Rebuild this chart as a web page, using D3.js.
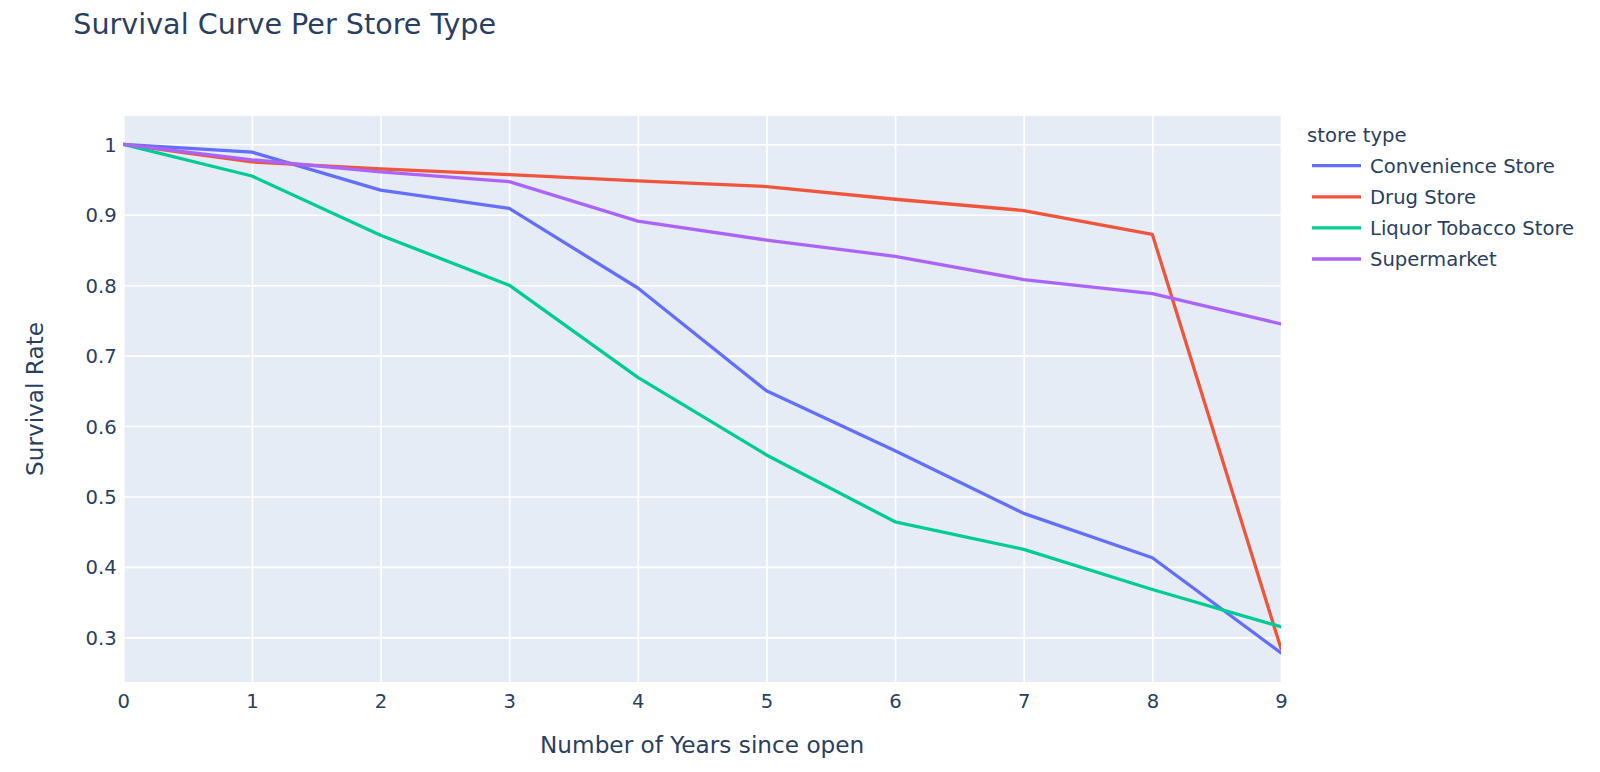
<!DOCTYPE html>
<html>
<head>
<meta charset="utf-8">
<script src="https://cdn.jsdelivr.net/npm/d3@7"></script>
<style>
  html, body { margin: 0; padding: 0; background: #fff; }
  svg { display: block; }
  text { font-family: "DejaVu Sans", Verdana, sans-serif; fill: #2a3f5f; }
</style>
</head>
<body>
<svg id="chart" width="1600" height="772"></svg>
<script>
// ---- data ----
const years = [0, 1, 2, 3, 4, 5, 6, 7, 8, 9];
const seriesNames = ["Convenience Store", "Drug Store", "Liquor Tobacco Store", "Supermarket"];
const convenienceStore = [1, 0.989, 0.935, 0.909, 0.796, 0.650, 0.565, 0.476, 0.413, 0.278];
const drugStore        = [1, 0.975, 0.965, 0.957, 0.948, 0.940, 0.922, 0.906, 0.872, 0.284];
const liquorTobacco    = [1, 0.955, 0.871, 0.800, 0.669, 0.559, 0.464, 0.425, 0.368, 0.315];
const supermarket      = [1, 0.978, 0.961, 0.947, 0.891, 0.864, 0.841, 0.808, 0.788, 0.745];
const yTicks = [0.3, 0.4, 0.5, 0.6, 0.7, 0.8, 0.9, 1];
const xTicks = [0, 1, 2, 3, 4, 5, 6, 7, 8, 9];
const colors = ["#636efa", "#EF553B", "#00cc96", "#ab63fa"];

const seriesValues = [convenienceStore, drugStore, liquorTobacco, supermarket];

// ---- layout ----
const svg = d3.select("#chart");
const plot = { left: 123.3, right: 1281, top: 116, bottom: 682 };

const x = d3.scaleLinear().domain([0, 9]).range([plot.left, plot.right]);
const y = d3.scaleLinear().domain([0.2366, 1.0402]).range([plot.bottom, plot.top]);

// background
svg.append("rect")
  .attr("x", plot.left).attr("y", plot.top)
  .attr("width", plot.right - plot.left).attr("height", plot.bottom - plot.top)
  .attr("fill", "#E5ECF6");

// grid lines via axes
const xGrid = d3.axisBottom(x).tickValues(xTicks).tickSize(-(plot.bottom - plot.top)).tickFormat("");
svg.append("g").attr("transform", `translate(0,${plot.bottom})`).call(xGrid)
  .call(g => g.select(".domain").remove())
  .call(g => g.selectAll("line").attr("stroke", "#fff").attr("stroke-width", 1.6));

const yGrid = d3.axisLeft(y).tickValues(yTicks).tickSize(-(plot.right - plot.left)).tickFormat("");
svg.append("g").attr("transform", `translate(${plot.left},0)`).call(yGrid)
  .call(g => g.select(".domain").remove())
  .call(g => g.selectAll("line").attr("stroke", "#fff").attr("stroke-width", 1.6));

// tick labels via axes
const xAxis = d3.axisBottom(x).tickValues(xTicks).tickSize(0).tickPadding(0).tickFormat(d3.format("d"));
svg.append("g").attr("transform", `translate(0,${plot.bottom})`).call(xAxis)
  .call(g => g.select(".domain").remove())
  .call(g => g.selectAll("text")
    .attr("dy", null).attr("y", 25.5)
    .style("font-size", "19.6px").style("font-family", "DejaVu Sans, Verdana, sans-serif").attr("fill", "#2a3f5f"));

const yAxis = d3.axisLeft(y).tickValues(yTicks).tickSize(0).tickPadding(6.6).tickFormat(d => String(d));
svg.append("g").attr("transform", `translate(${plot.left},0)`).call(yAxis)
  .call(g => g.select(".domain").remove())
  .call(g => g.selectAll("text")
    .attr("dy", null).attr("y", 7)
    .style("font-size", "19.6px").style("font-family", "DejaVu Sans, Verdana, sans-serif").attr("fill", "#2a3f5f"));

// lines
const line = d3.line().x((d, i) => x(years[i])).y(d => y(d));
svg.append("defs").append("clipPath").attr("id", "clip")
  .append("rect").attr("x", plot.left).attr("y", plot.top)
  .attr("width", plot.right - plot.left).attr("height", plot.bottom - plot.top);
const gLines = svg.append("g").attr("clip-path", "url(#clip)");
seriesValues.forEach((vals, k) => {
  gLines.append("path")
    .datum(vals)
    .attr("d", line)
    .attr("fill", "none")
    .attr("stroke", colors[k])
    .attr("stroke-width", 3.3)
    .attr("stroke-linejoin", "round")
    .attr("stroke-linecap", "round");
});

// title
svg.append("text")
  .attr("x", 73.3).attr("y", 34.3)
  .style("font-size", "28.6px")
  .text("Survival Curve Per Store Type");

// axis titles
svg.append("text")
  .attr("x", (plot.left + plot.right) / 2).attr("y", 752.7)
  .attr("text-anchor", "middle")
  .style("font-size", "23.2px")
  .text("Number of Years since open");

svg.append("text")
  .attr("transform", `translate(43.3,${(plot.top + plot.bottom) / 2}) rotate(-90)`)
  .attr("text-anchor", "middle")
  .style("font-size", "23.2px")
  .text("Survival Rate");

// legend
const legend = svg.append("g");
legend.append("text")
  .attr("x", 1307).attr("y", 141.7)
  .style("font-size", "19.6px")
  .text("store type");
seriesNames.forEach((name, k) => {
  const ly = 165.7 + k * 31.1;
  legend.append("line")
    .attr("x1", 1312).attr("x2", 1361)
    .attr("y1", ly).attr("y2", ly)
    .attr("stroke", colors[k]).attr("stroke-width", 3.3);
  legend.append("text")
    .attr("x", 1370).attr("y", ly + 7.3)
    .style("font-size", "19.6px")
    .text(name);
});
</script>
</body>
</html>
